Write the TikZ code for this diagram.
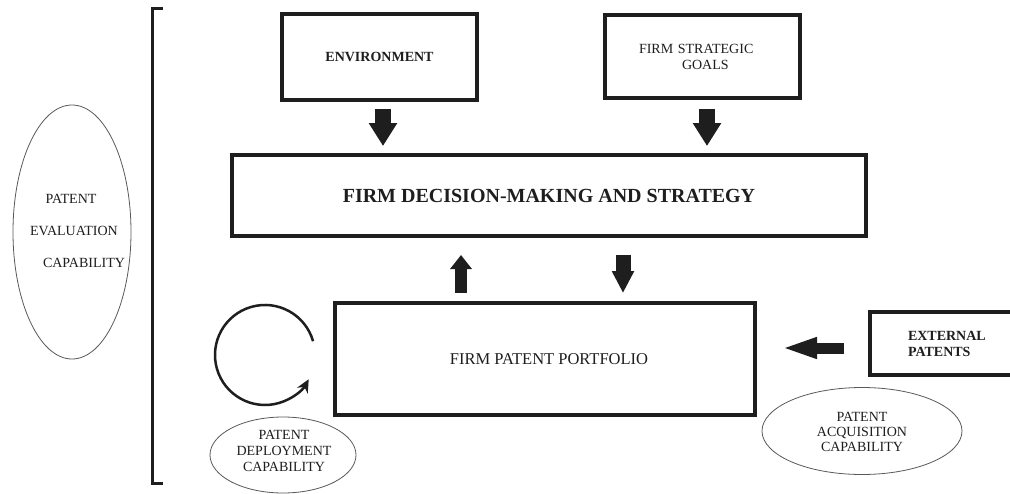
\documentclass[tikz,border=0pt]{standalone}
\usepackage{fontspec}
\setmainfont{Liberation Serif}
\usetikzlibrary{shapes.geometric,arrows.meta,calc}
\definecolor{ink}{HTML}{1E1E1E}
\begin{document}
\begin{tikzpicture}[x=1pt,y=-1pt,
  box/.style={draw=ink,line width=4pt,rectangle,inner sep=0pt,text=ink},
  oval/.style={draw=black!65,line width=0.8pt,ellipse,inner sep=0pt},
  txt/.style={text=ink,inner sep=0pt,font=\fontsize{14}{16}\selectfont},
  fat/.style={draw=ink,line cap=butt}]
\clip (0,0) rectangle (1010,493);
\fill[white] (0,0) rectangle (1010,493);

% boxes
\node[box,minimum width=195pt,minimum height=86pt,font=\bfseries\fontsize{14}{16}\selectfont] (env) at (379.5,57) {ENVIRONMENT};
\node[box,minimum width=195pt,minimum height=83pt,font=\fontsize{14}{16}\selectfont,text width=127pt,align=left] (goals) at (702.5,56.5) {FIRM STRATEGIC\\\hspace*{43pt}GOALS};
\node[box,minimum width=634pt,minimum height=81pt,font=\bfseries\fontsize{20}{24}\selectfont] (main) at (549,195.5) {FIRM DECISION-MAKING AND STRATEGY};
\node[box,minimum width=420pt,minimum height=112pt,font=\fontsize{16.5}{20}\selectfont] (port) at (545,359) {\hspace*{8pt}FIRM PATENT PORTFOLIO};
\node[box,minimum width=155pt,minimum height=63pt,font=\bfseries\fontsize{14}{16}\selectfont,text width=79pt,align=left] (ext) at (947.5,343.5) {EXTERNAL\\PATENTS};

% ellipses
\node[oval,minimum width=118pt,minimum height=254pt] (eval) at (72,232) {};
\node[txt] (ev1) at (71,199) {PATENT};
\node[txt] (ev2) at (74,231) {EVALUATION};
\node[txt] (ev3) at (84,263) {CAPABILITY};
\node[oval,minimum width=146pt,minimum height=76pt] (deploy) at (283,455) {};
\node[txt,align=center] (deptxt) at (284,451) {PATENT\\DEPLOYMENT\\CAPABILITY};
\node[oval,minimum width=200pt,minimum height=87pt] (acq) at (862,431) {};
\node[txt,align=center,font=\fontsize{14}{15}\selectfont] (acqtxt) at (862,432) {PATENT\\ACQUISITION\\CAPABILITY};

% bracket
\draw[ink,line width=3pt] (163,8) -- (152,8) -- (152,483) -- (163,483);

% block arrows
\draw[fat,line width=16pt,-{Triangle[width=27pt,length=23pt]},shorten <=7pt,shorten >=7pt]
  ($(env.south)+(3.5,0)$) coordinate (ea) -- (ea |- main.north);
\draw[fat,line width=16pt,-{Triangle[width=27pt,length=23pt]},shorten <=9pt,shorten >=7pt]
  ($(goals.south)+(4.5,0)$) coordinate (ga) -- (ga |- main.north);
\coordinate (ux) at (461,0);
\draw[fat,line width=12.5pt,-{Triangle[width=21pt,length=14pt]},shorten <=8pt,shorten >=17pt]
  (ux |- port.north) -- (ux |- main.south);
\coordinate (dx) at (623,0);
\draw[fat,line width=15pt,-{Triangle[width=21pt,length=22pt]},shorten <=17pt,shorten >=8pt]
  (dx |- main.south) -- (dx |- port.north);
\draw[fat,line width=11pt,-{Triangle[width=19pt,length=36pt]},shorten <=24pt,shorten >=24pt]
  ($(ext.west)+(0,4.5)$) coordinate (la) -- (la -| port.east);

% cycle arrow
\coordinate (cyc) at (313.06,341.2);
\draw[ink,line width=2.5pt,-{Stealth[length=13pt,width=12pt]}]
  (cyc) arc[start angle=-16,end angle=-331,radius=50];
\end{tikzpicture}
\end{document}
